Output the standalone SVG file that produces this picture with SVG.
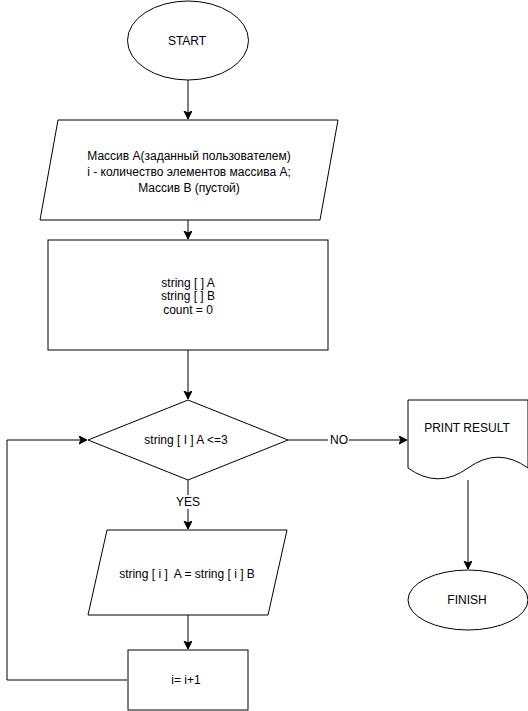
<svg xmlns="http://www.w3.org/2000/svg" width="528" height="711" viewBox="0 0 528 711">
<defs>
<style>
.s{fill:#fff;stroke:#000;stroke-width:1}
.t{font-family:"Liberation Sans",Arial,sans-serif;font-size:12px;fill:#000;text-anchor:middle;white-space:pre}
.e{fill:none;stroke:#000;stroke-width:1}
</style>
<marker id="arr" markerUnits="userSpaceOnUse" markerWidth="10" markerHeight="10" refX="8" refY="4" orient="auto">
<path d="M0,0 L8,4 L0,8 L2,4 Z" fill="#000" stroke="#000" stroke-width="1"/>
</marker>
</defs>
<rect width="528" height="711" fill="#fff"/>
<g id="connectors">
<path class="e" d="M188,80 V119" marker-end="url(#arr)"/>
<path class="e" d="M188,220 V239" marker-end="url(#arr)"/>
<path class="e" d="M188,350 V399" marker-end="url(#arr)"/>
<path class="e" d="M288,440 H407" marker-end="url(#arr)"/>
<rect x="328" y="433" width="21" height="14" fill="#fff"/>
<text class="t" x="339" y="444">NO</text>
<path class="e" d="M188,480 V529" marker-end="url(#arr)"/>
<rect x="176" y="495" width="24" height="14" fill="#fff"/>
<text class="t" x="188" y="506">YES</text>
<path class="e" d="M188,615 V649" marker-end="url(#arr)"/>
<path class="e" d="M127,680 H7 V440 H87" marker-end="url(#arr)"/>
<path class="e" d="M468,480 V569" marker-end="url(#arr)"/>
</g>
<g id="start">
<ellipse class="s" cx="188" cy="40.5" rx="60.5" ry="39.5"/>
<text class="t" x="187" y="45">START</text>
</g>
<g id="input">
<path class="s" d="M58,120 H338 L320,220 H40 Z"/>
<text class="t" x="189" y="160">Массив А(заданный пользователем)</text>
<text class="t" x="189" y="176">i - количество элементов массива А;</text>
<text class="t" x="189" y="192">Массив В (пустой)</text>
</g>
<g id="init">
<rect class="s" x="48" y="240" width="280" height="110"/>
<text class="t" x="188" y="287">string [ ] A</text>
<text class="t" x="188" y="300">string [ ] B</text>
<text class="t" x="188" y="314">count = 0</text>
</g>
<g id="cond">
<path class="s" d="M188,400 L288,440 L188,480 L88,440 Z"/>
<text class="t" x="186" y="444">string [ I ] A &lt;=3</text>
</g>
<g id="assign">
<path class="s" d="M107,530 H287 L268,615 H88 Z"/>
<text class="t" x="187" y="578">string [ i ]  A = string [ i ] B</text>
</g>
<g id="incr">
<rect class="s" x="128" y="650" width="120" height="60"/>
<text class="t" x="186" y="684">i= i+1</text>
</g>
<g id="print">
<path class="s" d="M408,400 H528 V468 Q498,446.4 468,468 Q438,489.6 408,468 Z"/>
<text class="t" x="467" y="432">PRINT RESULT</text>
</g>
<g id="finish">
<ellipse class="s" cx="468" cy="600" rx="60" ry="30"/>
<text class="t" x="467" y="604">FINISH</text>
</g>
</svg>
